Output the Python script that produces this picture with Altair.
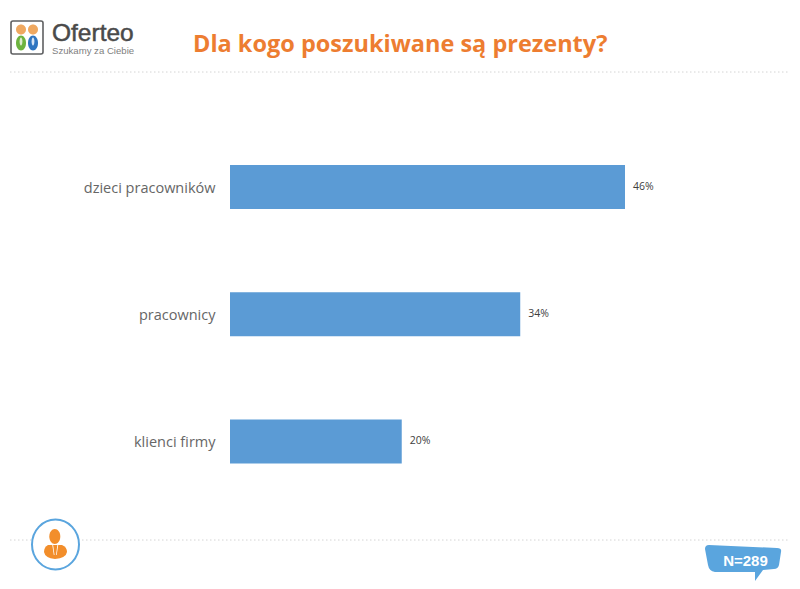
import altair as alt

categories = ["dzieci pracowników", "pracownicy", "klienci firmy"]
values = [46, 33.8, 20]
labels = ["46%", "34%", "20%"]
title_text = "Dla kogo poszukiwane są prezenty?"
sample_text = "N=289"

rows = [{"k": c, "v": v, "t": t} for c, v, t in zip(categories, values, labels)]
one = alt.Data(values=[{"a": 1}])

LEFT = 222
BLUE = "#5B9BD5"
ORANGE = "#ED7D31"
SKY = "#5AA5DE"


def px(x):
    return alt.value(x - 8 - LEFT)


def py(y):
    return alt.value(y - 8)


def ell(cx, cy, rx, ry):
    return (f"M{cx-rx},{cy}A{rx},{ry} 0 1 1 {cx+rx},{cy}"
            f"A{rx},{ry} 0 1 1 {cx-rx},{cy}Z")


def path(d, fill=None, stroke=None, sw=0):
    kw = {"shape": d, "size": 4, "opacity": 1}
    if fill:
        kw.update(fill=fill, filled=True)
    if stroke:
        kw.update(stroke=stroke, strokeWidth=sw)
    else:
        kw.update(strokeWidth=0)
    return alt.Chart(one).mark_point(**kw).encode(x=px(0), y=py(0))


def txt(s, x, y, **kw):
    return alt.Chart(one).mark_text(text=s, **kw).encode(x=px(x), y=py(y))


def dots(y):
    return alt.Chart(one).mark_rule(
        color="#D4D4D4", strokeWidth=1, strokeDash=[1.5, 2.5]
    ).encode(x=px(10), x2=px(788), y=py(y))


x_scale = alt.Scale(domain=[0, 562 / 8.587], range=[0, 562])
y_scale = alt.Scale(domain=categories, range=[115.5, 497],
                    paddingInner=0.654, paddingOuter=0.327)

base = alt.Chart(alt.Data(values=rows))
bars = base.mark_bar(color=BLUE, cornerRadius=0).encode(
    x=alt.X("v:Q", scale=x_scale, axis=None),
    y=alt.Y("k:N", scale=y_scale, sort=categories, title=None,
            axis=alt.Axis(domain=False, ticks=False, labelPadding=15, labelOffset=1.5,
                          labelFont="Open Sans", labelFontSize=14.5,
                          labelColor="#666666", labelLimit=200)),
)
bar_text = base.mark_text(align="left", baseline="middle", dx=8, font="Open Sans",
                          fontSize=10.5, color="#404040").encode(
    x=alt.X("v:Q", scale=x_scale, axis=None),
    y=alt.Y("k:N", scale=y_scale, sort=categories),
    text="t:N",
)

decor = [
    dots(72),
    dots(540),
    # logo
    path("M13,21H41Q43,21 43,23V52Q43,54 41,54H13Q11,54 11,52V23Q11,21 13,21Z",
         fill="#FFFFFF", stroke="#5F6062", sw=1.6),
    path(ell(21, 29.5, 5, 5), fill="#EFA860"),
    path(ell(33, 29.5, 5, 5), fill="#EFA860"),
    path(ell(21, 43, 5, 7.5), fill="#6DB33F"),
    path(ell(33, 43, 5, 7.5), fill="#2F75C0"),
    path(ell(21, 41.5, 1.4, 4), fill="#DDEBCF"),
    path(ell(33, 41.5, 1.4, 4), fill="#D5E4F5"),
    txt("Oferteo", 52, 41, align="left", baseline="alphabetic", font="Liberation Sans",
        fontSize=24.5, fontWeight=500, color="#4A4A4A", stroke="#4A4A4A", strokeWidth=0.5),
    txt("Szukamy za Ciebie", 52, 54, align="left", baseline="alphabetic",
        font="Liberation Sans", fontSize=9.6, color="#808080"),
    txt(title_text, 193, 45, align="left", font="Open Sans", fontSize=23.5,
        fontWeight="bold", color=ORANGE),
    # person badge
    path(ell(55.5, 544.5, 23.5, 25), fill="#FFFFFF", stroke=SKY, sw=2),
    path("M48,545Q44,547 44,552Q45,558 55,559Q66,558 67,552Q67,547 62,545Z",
         fill="#F28E2B"),
    path(ell(54.8, 536.5, 5.5, 7.5), fill="#F28E2B"),
    path("M53,544L54.5,555L53.8,555L52.2,544.5Z", fill="#FFFFFF"),
    path("M57.5,544L56,555L56.7,555L58.3,544.5Z", fill="#FFFFFF"),
    # sample bubble
    path("M709,545L777,548Q782,548 781,552L779,565Q778,569 774,569L763,570"
         "L755,581L755,572L715,572Q709,571 708,565L705,549Q705,545 709,545Z",
         fill=SKY),
    txt(sample_text, 745.5, 560.5, font="Liberation Sans", fontSize=15,
        fontWeight="bold", color="#FFFFFF", baseline="middle"),
]

chart = alt.layer(bars, bar_text, *decor).resolve_scale(
    x="shared", y="shared"
).properties(
    width=562, height=573,
    padding={"left": LEFT, "top": 0, "right": 0, "bottom": 0},
    autosize=alt.AutoSizeParams(type="none"),
    background="#FFFFFF",
).configure_view(stroke=None)

chart.save("out.html", embed_options={"renderer": "svg", "actions": False})
